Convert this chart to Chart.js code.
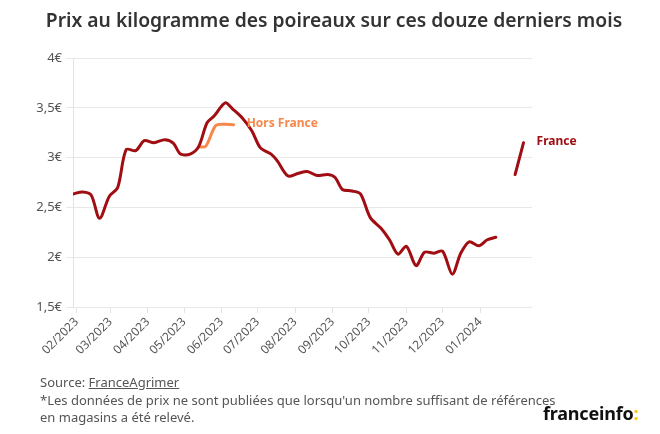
<!DOCTYPE html>
<html><head><meta charset="utf-8">
<script src="https://cdn.jsdelivr.net/npm/chart.js@4.4.1/dist/chart.umd.min.js"></script>
<style>
html,body{margin:0;padding:0;background:#fff;}
#wrap{position:relative;width:660px;height:434px;overflow:hidden;font-family:"Noto Sans",sans-serif;}
#c{position:absolute;left:0;top:0;}
#title{position:absolute;left:4px;top:8px;width:660px;text-align:center;font-size:19.3px;line-height:24px;font-weight:600;color:#333;white-space:nowrap;}
#foot{position:absolute;left:40px;top:374px;font-size:13px;line-height:17.5px;color:#555;white-space:nowrap;}
#logo{position:absolute;left:543px;top:401px;font-size:18px;line-height:24px;font-weight:700;color:#111;letter-spacing:-0.2px;}
#logo span{color:#ffc800;}
</style></head>
<body><div id="wrap">
<canvas id="c" width="660" height="434"></canvas>
<div id="title">Prix au kilogramme des poireaux sur ces douze derniers mois</div>
<div id="foot">Source: <u>FranceAgrimer</u><br>*Les données de prix ne sont publiées que lorsqu'un nombre suffisant de références<br>en magasins a été relevé.</div>
<div id="logo">franceinfo<span>:</span></div>
</div>
<script>
// ---- data ----
const franceDates = ['2023-01-29','2023-02-06','2023-02-13','2023-02-20','2023-02-28','2023-03-07','2023-03-14','2023-03-22','2023-03-29','2023-04-06','2023-04-15','2023-04-22','2023-04-28','2023-05-06','2023-05-13','2023-05-20','2023-05-26','2023-06-04','2023-06-10','2023-06-18','2023-06-26','2023-07-03','2023-07-12','2023-07-17','2023-07-26','2023-08-03','2023-08-11','2023-08-19','2023-08-28','2023-09-03','2023-09-09','2023-09-17','2023-09-24','2023-10-02','2023-10-11','2023-10-18','2023-10-25','2023-11-01','2023-11-09','2023-11-16','2023-11-24','2023-12-01','2023-12-09','2023-12-16','2023-12-23','2023-12-31','2024-01-07','2024-01-14'];
const franceValues = [2.635,2.655,2.625,2.39,2.61,2.70,3.08,3.07,3.17,3.15,3.18,3.145,3.035,3.035,3.11,3.35,3.42,3.55,3.49,3.40,3.27,3.10,3.035,2.97,2.815,2.84,2.86,2.82,2.83,2.80,2.68,2.665,2.635,2.40,2.29,2.175,2.03,2.11,1.915,2.05,2.04,2.06,1.83,2.04,2.155,2.115,2.175,2.20];
const franceLateDates = ['2024-01-30','2024-02-06'];
const franceLateValues = [2.83,3.15];
const horsDates = ['2023-05-13','2023-05-19','2023-05-27','2023-06-03','2023-06-11'];
const horsValues = [3.105,3.115,3.32,3.335,3.33];
const seriesNames = ['France','Hors France'];
const monthTicks = ['2023-02-01','2023-03-01','2023-04-01','2023-05-01','2023-06-01','2023-07-01','2023-08-01','2023-09-01','2023-10-01','2023-11-01','2023-12-01','2024-01-01'];
const monthLabels = ['02/2023','03/2023','04/2023','05/2023','06/2023','07/2023','08/2023','09/2023','10/2023','11/2023','12/2023','01/2024'];
const yTicks = [1.5,2,2.5,3,3.5,4];
const yLabels = ['1,5€','2€','2,5€','3€','3,5€','4€'];
const axisEndDate = '2024-02-13';

// ---- helpers ----
const ORIGIN = Date.UTC(2023,1,1);
const day = s => (Date.UTC(+s.slice(0,4), +s.slice(5,7)-1, +s.slice(8,10)) - ORIGIN)/86400000;
const pts = (d, v) => d.map((s,i) => ({x: day(s), y: v[i]}));

const RED = '#a00d12';
const ORANGE = '#f7884c';

const endLabels = {
  id: 'endLabels',
  afterDatasetsDraw(chart) {
    const ctx = chart.ctx;
    chart.data.datasets.forEach((ds, i) => {
      if (!ds.endLabel) return;
      const meta = chart.getDatasetMeta(i);
      const el = meta.data[meta.data.length - 1];
      ctx.save();
      ctx.font = 'bold 12px "Noto Sans", sans-serif';
      ctx.fillStyle = ds.borderColor;
      ctx.textAlign = 'left';
      ctx.textBaseline = 'middle';
      ctx.fillText(ds.endLabel, el.x + 13, el.y - 1);
      ctx.restore();
    });
  }
};

const lineStyle = {pointRadius: 0, borderWidth: 3, tension: 0.3, borderCapStyle: 'round', borderJoinStyle: 'round', fill: false};

new Chart(document.getElementById('c'), {
  type: 'line',
  data: {
    datasets: [
      Object.assign({label: seriesNames[0], data: pts(franceDates, franceValues), borderColor: RED}, lineStyle),
      Object.assign({label: seriesNames[0], data: pts(franceLateDates, franceLateValues), borderColor: RED, endLabel: seriesNames[0]}, lineStyle),
      Object.assign({label: seriesNames[1], data: pts(horsDates, horsValues), borderColor: ORANGE, endLabel: seriesNames[1]}, lineStyle)
    ]
  },
  options: {
    responsive: false,
    animation: false,
    devicePixelRatio: 1,
    layout: {padding: {left: 0, top: 58, right: 128, bottom: 67}},
    plugins: {legend: {display: false}, tooltip: {enabled: false}, title: {display: false}},
    scales: {
      x: {
        type: 'linear',
        min: day(franceDates[0]),
        max: day(axisEndDate),
        afterBuildTicks: s => { s.ticks = monthTicks.map(m => ({value: day(m)})); },
        afterFit: s => { s.height = 60; },
        ticks: {
          autoSkip: false, minRotation: 45, maxRotation: 45,
          color: '#555', font: {family: '"Noto Sans", sans-serif', size: 12},
          padding: 2,
          callback: (v, i) => monthLabels[i]
        },
        grid: {drawOnChartArea: false, color: '#e4e4e4', tickLength: 6},
        border: {display: false}
      },
      y: {
        min: 1.5, max: 4,
        afterBuildTicks: s => { s.ticks = yTicks.map(v => ({value: v})); },
        afterFit: s => { s.width = 73; },
        ticks: {
          color: '#555', font: {family: '"Noto Sans", sans-serif', size: 13},
          padding: 4,
          callback: v => yLabels[yTicks.indexOf(v)]
        },
        grid: {color: '#e8e8e8', lineWidth: 1, tickLength: 7},
        border: {display: true, color: '#e4e4e4'}
      }
    }
  },
  plugins: [endLabels]
});
</script>
</body></html>
